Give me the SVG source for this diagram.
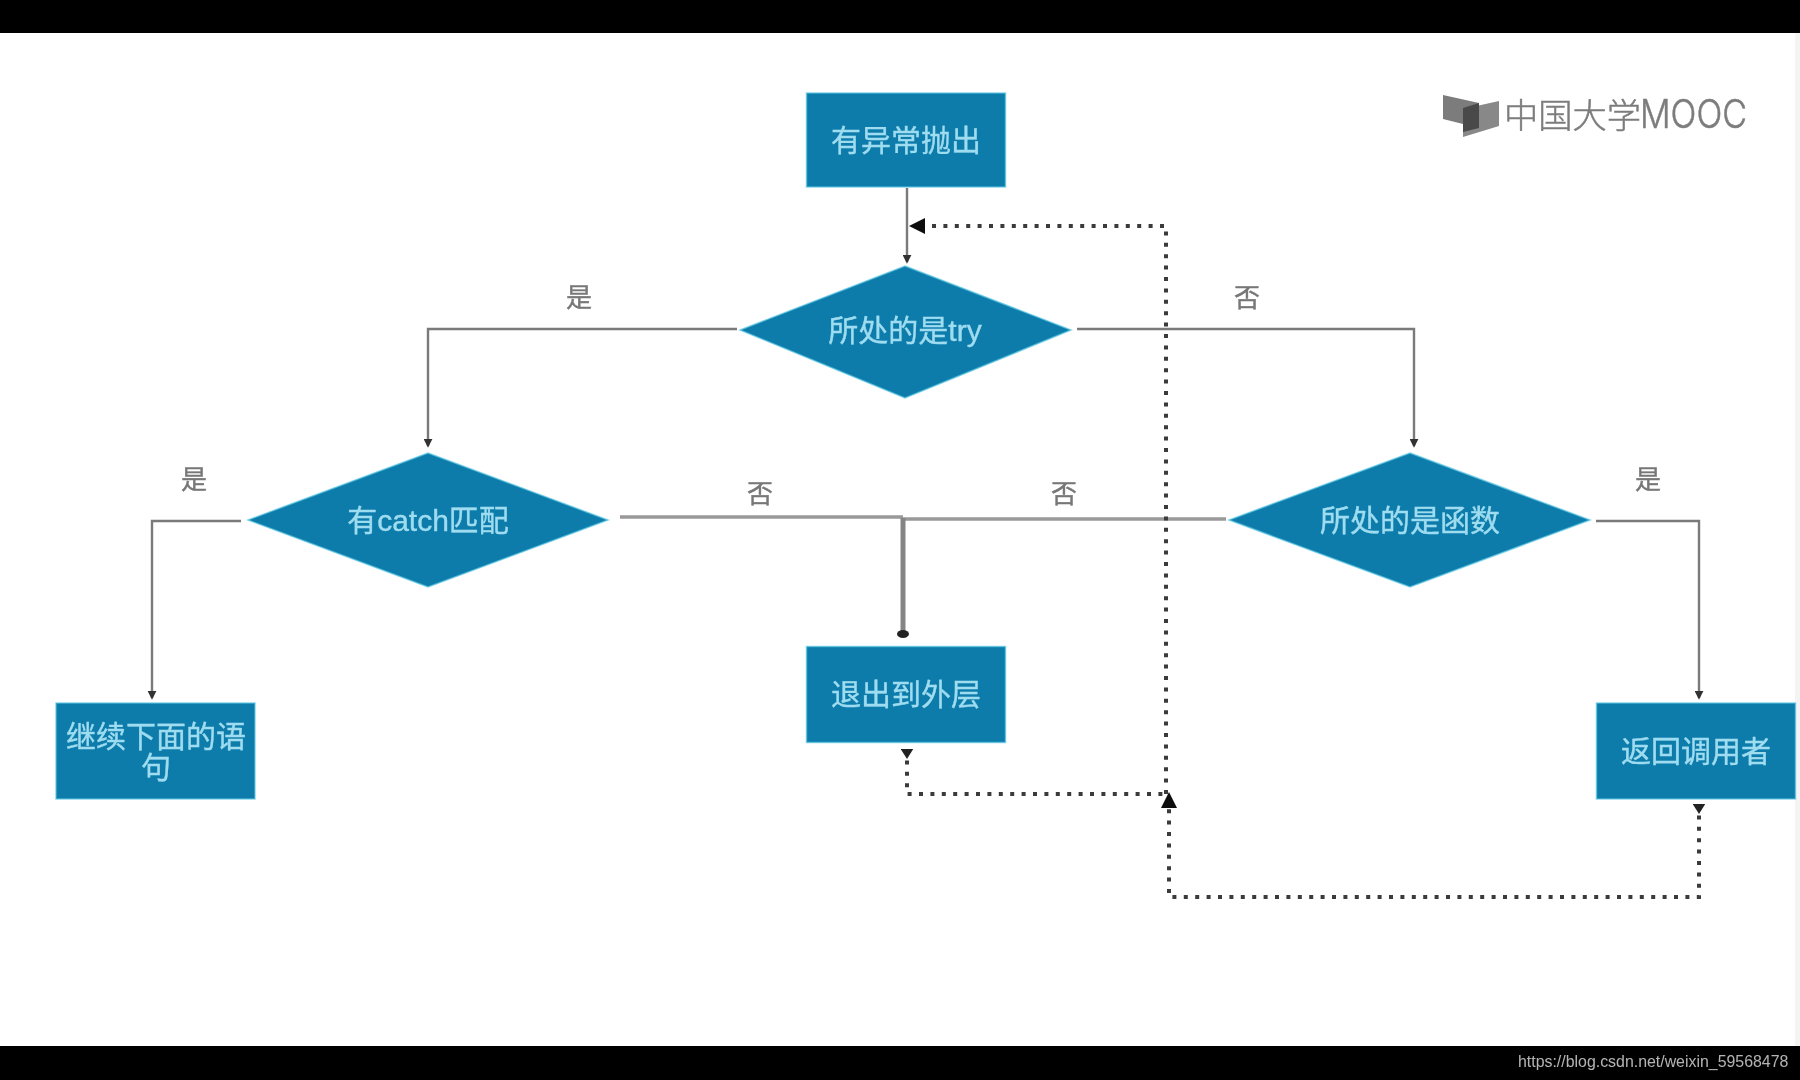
<svg xmlns="http://www.w3.org/2000/svg" width="1800" height="1080" viewBox="0 0 1800 1080">
<style>
text{font-family:"Liberation Sans","Noto Sans CJK SC",sans-serif}
.box{fill:#0a7cab;stroke:#5cc6e2;stroke-width:1.5;stroke-opacity:.7}
.t{fill:#9fdcf0;stroke:#9fdcf0;stroke-width:.4;font-size:30px;text-anchor:middle;dominant-baseline:central}
.lb{fill:#777;stroke:#777;stroke-width:.4;font-size:26px;text-anchor:middle;dominant-baseline:central}
.ln{fill:none;stroke:#7a7a7a;stroke-width:2.4}
.thick{fill:none;stroke:#858585;stroke-width:5}
.dot{fill:none;stroke:#3a3a3a;stroke-width:4;stroke-dasharray:4 7.4}
</style>
<defs>
<filter id="soft" x="-20" y="-20" width="1840" height="1120" filterUnits="userSpaceOnUse"><feGaussianBlur stdDeviation="0.65"/></filter>
<marker id="a" markerUnits="userSpaceOnUse" markerWidth="9" markerHeight="9" refX="8" refY="5" orient="auto" viewBox="0 0 10 10"><path d="M0 0L10 5L0 10Z" fill="#303030"/></marker>
<marker id="b" markerUnits="userSpaceOnUse" markerWidth="16" markerHeight="16" refX="0" refY="5" orient="auto" viewBox="0 0 10 10"><path d="M0 0L10 5L0 10Z" fill="#111"/></marker>
<marker id="c" markerUnits="userSpaceOnUse" markerWidth="10" markerHeight="13" refX="0" refY="5" orient="auto" viewBox="0 0 8 10"><path d="M0 0L8 5L0 10Z" fill="#222"/></marker>
</defs>
<rect width="1800" height="1080" fill="#fff"/>
<g filter="url(#soft)">
<rect x="1795" y="33" width="25" height="1013" fill="#f4f4f4"/>
<rect id="bar-top" x="-20" y="-20" width="1840" height="53" fill="#000"/>
<rect id="bar-bottom" x="-20" y="1046" width="1840" height="54" fill="#050505"/>

<g id="logo">
<polygon points="1443,95 1479,103 1479,128 1443,119" fill="#7c7c7c"/>
<polygon points="1463,109 1499,101 1499,126 1463,137" fill="#888"/>
<polygon points="1463,108 1479,103 1479,128 1463,132" fill="#4a4a4a"/>
<text x="1504" y="128" font-size="34" fill="#7c7c7c" stroke="#7c7c7c" stroke-width=".5" font-weight="300" textLength="137" lengthAdjust="spacingAndGlyphs" style="font-family:'Noto Sans CJK SC',sans-serif">中国大学</text>
<text x="1640" y="128" font-size="40" fill="#7c7c7c" stroke="#7c7c7c" stroke-width=".5" font-weight="300" textLength="107" lengthAdjust="spacingAndGlyphs" style="font-family:Inter,sans-serif">MOOC</text>
</g>

<g id="connectors">
<path class="ln" d="M907 188V262" marker-end="url(#a)"/>
<path class="ln" d="M737 329H428V446" marker-end="url(#a)"/>
<path class="ln" d="M1077 329H1414V446" marker-end="url(#a)"/>
<path class="ln" d="M241 521H152V698" marker-end="url(#a)"/>
<path class="ln" d="M1596 521H1699V698" marker-end="url(#a)"/>
<path class="ln" d="M620 517H903" style="stroke-width:3.4;stroke:#999"/>
<path class="ln" d="M1226 519H903" style="stroke-width:3.4;stroke:#999"/>
<path class="thick" d="M903 518V636"/>
<ellipse cx="903" cy="634" rx="6" ry="4" fill="#222"/>
<path class="dot" d="M907 749V794H1166" marker-start="url(#c)"/>
<path class="dot" d="M1166 794V226H925" marker-end="url(#b)"/>
<path class="dot" d="M1699 804V897H1169V808" marker-start="url(#c)" marker-end="url(#b)"/>
</g>

<g id="n-throw"><rect class="box" x="806.500" y="93" width="199" height="94"/><text class="t" x="906" y="140">有异常抛出</text></g>
<g id="n-try"><polygon class="box" points="905,266 1071,330 905,398 740,330"/><text class="t" x="905" y="330">所处的是try</text></g>
<g id="n-catch"><polygon class="box" points="428,453 608,520 428,587 248,520"/><text class="t" x="428" y="520">有catch匹配</text></g>
<g id="n-func"><polygon class="box" points="1410,453 1590,520 1410,587 1229,520"/><text class="t" x="1410" y="520">所处的是函数</text></g>
<g id="n-next"><rect class="box" x="56" y="703" width="199" height="96"/><text class="t" x="156" y="736">继续下面的语</text><text class="t" x="156" y="767">句</text></g>
<g id="n-exit"><rect class="box" x="806.500" y="646.500" width="199" height="96"/><text class="t" x="906" y="694">退出到外层</text></g>
<g id="n-return"><rect class="box" x="1596.500" y="703" width="199" height="96"/><text class="t" x="1696" y="751">返回调用者</text></g>

<g id="labels">
<text class="lb" x="579" y="298">是</text>
<text class="lb" x="1247" y="298">否</text>
<text class="lb" x="194" y="480">是</text>
<text class="lb" x="760" y="494">否</text>
<text class="lb" x="1064" y="494">否</text>
<text class="lb" x="1648" y="480">是</text>
</g>
<text id="url" x="1518" y="1067" font-size="15.900" fill="#b4b4b4">https://blog.csdn.net/weixin_59568478</text>
</g>
</svg>
